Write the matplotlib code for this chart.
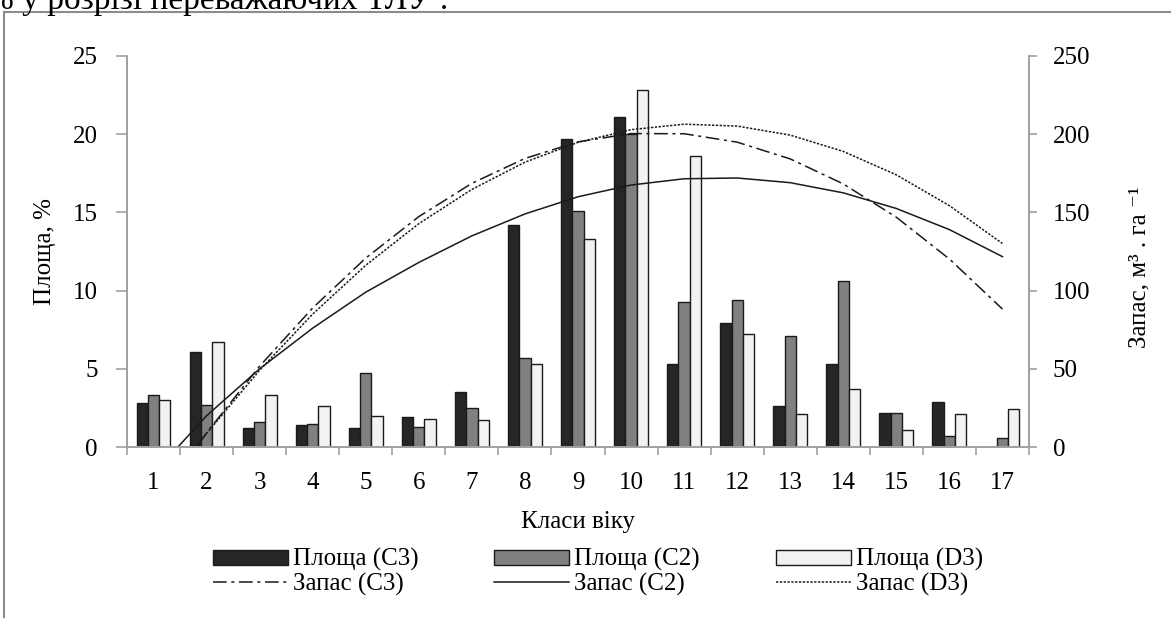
import numpy as np
import matplotlib
matplotlib.use("Agg")
import matplotlib.pyplot as plt
from matplotlib.lines import Line2D

plt.rcParams['font.family'] = ['Liberation Serif', 'DejaVu Serif']
plt.rcParams['mathtext.fontset'] = 'stix'

# --- data ---
classes = np.arange(1, 18)
class_labels = [str(c) for c in classes]

area_c3 = [2.8, 6.1, 1.2, 1.4, 1.2, 1.9, 3.5, 14.2, 19.7, 21.1, 5.3, 7.9, 2.6, 5.3, 2.2, 2.9, 0.0]
area_c2 = [3.3, 2.7, 1.6, 1.5, 4.7, 1.3, 2.5, 5.7, 15.1, 20.0, 9.3, 9.4, 7.1, 10.6, 2.2, 0.7, 0.6]
area_d3 = [3.0, 6.7, 3.3, 2.6, 2.0, 1.8, 1.7, 5.3, 13.3, 22.8, 18.6, 7.2, 2.1, 3.7, 1.1, 2.1, 2.4]

# trend lines (stock, m3/ha), negative part is clipped by the axis
stock_c3 = [-38.7, 9.1, 51.7, 88.9, 120.8, 147.3, 168.6, 184.5, 195.1, 200.4,
            200.3, 194.9, 184.2, 168.2, 146.9, 120.2, 88.2]
stock_c2 = [-17.0, 20.0, 50.0, 76.0, 99.0, 118.0, 135.0, 149.0, 160.0, 167.5,
            171.5, 172.0, 169.0, 162.5, 152.5, 139.0, 121.7]
stock_d3 = [-36.4, 8.7, 49.1, 85.0, 116.2, 142.8, 164.7, 182.1, 194.8, 202.9,
            206.4, 205.2, 199.4, 189.0, 174.0, 154.3, 130.1]

fs = 18
axis_grey = '#a0a0a0'
edge = '#1a1a1a'

fig = plt.figure(figsize=(11.71, 6.18), dpi=100)
ax = fig.add_axes([127 / 1171, 1 - 447 / 618, 902 / 1171, 391 / 618])
ax2 = ax.twinx()

w = 0.213
ax.bar(classes - w, area_c3, w, color='#262626', edgecolor=edge, linewidth=1.0, label='Площа (C3)')
ax.bar(classes, area_c2, w, color='#808080', edgecolor=edge, linewidth=1.0, label='Площа (C2)')
ax.bar(classes + w, area_d3, w, color='#f2f2f2', edgecolor=edge, linewidth=1.0, label='Площа (D3)')

l1, = ax2.plot(classes, stock_c3, color='#1a1a1a', lw=1.1, dashes=(9, 3, 2, 3), label='Запас (C3)')
l2, = ax2.plot(classes, stock_c2, color='#1a1a1a', lw=1.1, label='Запас (C2)')
l3, = ax2.plot(classes, stock_d3, color='#1a1a1a', lw=1.1, dashes=(1.5, 1), label='Запас (D3)')

ax.set_xlim(0.5, 17.5)
ax.set_ylim(0, 25)
ax2.set_ylim(0, 250)

# x axis: ticks on class boundaries, labels centered
ax.set_xticks(np.arange(0.5, 18, 1))
ax.set_xticklabels([])
ax.set_xticks(classes, minor=True)
ax.set_xticklabels(class_labels, minor=True, fontsize=fs)
ax.tick_params(axis='x', which='major', direction='out', length=6, width=1.2, color=axis_grey)
ax.tick_params(axis='x', which='minor', length=0, pad=18)

ax.set_yticks(np.arange(0, 26, 5))
ax.tick_params(axis='y', direction='out', length=8, width=1.2, color=axis_grey, labelsize=fs, pad=13)
ax2.set_yticks(np.arange(0, 251, 50))
ax2.tick_params(axis='y', direction='out', length=6, width=1.2, color=axis_grey, labelsize=fs, pad=11)

for a in (ax, ax2):
    a.spines['top'].set_visible(False)
    for s in ('left', 'right', 'bottom'):
        a.spines[s].set_color(axis_grey)
        a.spines[s].set_linewidth(1.2)

ax.set_xlabel('Класи віку', fontsize=fs)
ax.xaxis.set_label_coords(0.5, -0.192)
ax.xaxis.label.set_va('center')
ax.set_ylabel('Площа, %', fontsize=fs, va='center')
ax.yaxis.set_label_coords(-0.091, 0.5)
ax2.set_ylabel('Запас, м³ . га ⁻¹', fontsize=fs, va='center', rotation=90)
ax2.yaxis.set_label_coords(1.123, 0.46)

handles = [ax.patches[0], l1, ax.patches[17], l2, ax.patches[34], l3]
labels = ['Площа (C3)', 'Запас (C3)', 'Площа (C2)', 'Запас (C2)', 'Площа (D3)', 'Запас (D3)']
fig.legend(handles, labels, ncol=3, loc='center', bbox_to_anchor=(598 / 1171, 1 - 572 / 618),
           frameon=False, fontsize=fs, handlelength=3.0, handleheight=0.55,
           handletextpad=0.2, columnspacing=3.04, labelspacing=0.05, borderpad=0)

# surrounding page fragments: frame of the chart area and clipped text line above
fig.add_artist(Line2D([4 / 1171, 4 / 1171], [0, 1 - 12 / 618], color='#8c8c8c', lw=1.5))
fig.add_artist(Line2D([4 / 1171, 1], [1 - 12 / 618, 1 - 12 / 618], color='#8c8c8c', lw=1.5))
fig.text(-0.012, 1 - 9 / 618, '% у розрізі переважаючих ТЛУ :', fontsize=24, va='baseline')

fig.savefig('out.png', dpi=100)
